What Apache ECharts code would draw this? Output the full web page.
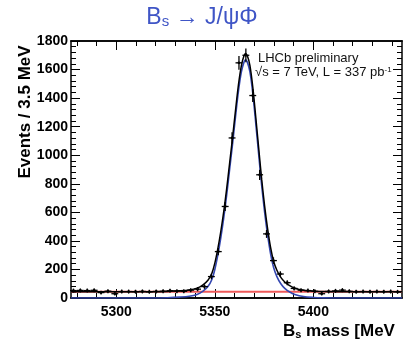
<!DOCTYPE html>
<html><head><meta charset="utf-8">
<script src="https://cdn.jsdelivr.net/npm/echarts@6/dist/echarts.min.js"></script>
<style>html,body{margin:0;padding:0;background:#fff}#c{width:404px;height:345px}</style>
</head><body><div id="c"></div>
<script>
// ---- data ----
const binCenters = [5278.25, 5281.75, 5285.25, 5288.75, 5292.25, 5295.75, 5299.25, 5302.75, 5306.25, 5309.75,
  5313.25, 5316.75, 5320.25, 5323.75, 5327.25, 5330.75, 5334.25, 5337.75, 5341.25, 5344.75,
  5348.25, 5351.75, 5355.25, 5358.75, 5362.25, 5365.75, 5369.25, 5372.75, 5376.25, 5379.75,
  5383.25, 5386.75, 5390.25, 5393.75, 5397.25, 5400.75, 5404.25, 5407.75, 5411.25, 5414.75,
  5418.25, 5421.75, 5425.25, 5428.75, 5432.25, 5435.75, 5439.25, 5442.75];
const events = [52, 53, 52, 54, 38, 48, 30, 45, 45, 44,
  46, 43, 46, 48, 51, 48, 47, 55, 62, 80,
  150, 325, 641, 1121, 1647, 1700, 1418, 863, 449, 262,
  168, 107, 67, 55, 52, 47, 30, 46, 50, 55,
  47, 44, 45, 44, 45, 44, 45, 43];
const eventErrors = [7, 7, 7, 7, 6, 7, 5, 7, 7, 7,
  7, 7, 7, 7, 7, 7, 7, 7, 8, 9,
  12, 18, 25, 33, 41, 41, 38, 29, 21, 16,
  13, 10, 8, 7, 7, 7, 5, 7, 7, 7,
  7, 7, 7, 7, 7, 7, 7, 7];
const curveMass = [5277, 5320, 5326, 5332, 5337, 5341, 5344, 5346.5, 5348.5, 5350,
  5351.5, 5353, 5354.5, 5356, 5357.5, 5359, 5360.5, 5362, 5363.5, 5364.8,
  5365.6, 5366.5, 5367.8, 5369.3, 5370.8, 5372.3, 5373.8, 5375.3, 5376.8, 5378.3,
  5379.8, 5381.5, 5383.5, 5385.5, 5388, 5391, 5395, 5400, 5405, 5410, 5445];
const signalFit = [0, 0, 2, 6, 12, 25, 48, 80, 130, 200,
  300, 420, 560, 720, 900, 1080, 1270, 1450, 1585, 1652,
  1668, 1652, 1585, 1430, 1220, 1000, 785, 598, 440, 310,
  215, 150, 100, 68, 42, 22, 10, 4, 1, 0, 0];
const totalFit = [44, 44, 46, 50, 56, 69, 92, 124, 174, 244,
  344, 464, 604, 764, 944, 1124, 1314, 1494, 1629, 1696,
  1712, 1696, 1629, 1474, 1264, 1044, 829, 642, 484, 354,
  259, 194, 144, 112, 86, 66, 54, 48, 45, 44, 44];
const bkgMass = [5277, 5445];
const bkgFit = [44, 44];
const xMajorLabels = [5300, 5350, 5400];
const xMinorTicks = [5280, 5290, 5300, 5310, 5320, 5330, 5340, 5350, 5360, 5370, 5380, 5390, 5400, 5410, 5420, 5430, 5440];

const FONT = 'Liberation Sans, Arial, Helvetica, sans-serif';
const pts = (xs, ys) => xs.map((x, i) => [x, ys[i]]);
const histData = binCenters.map((x, i) => [x, events[i], eventErrors[i]]);
const HALF_BIN = 1.75;
const plain = v => String(v);

const chart = echarts.init(document.getElementById('c'), null, {renderer: 'canvas'});

const xBase = {type: 'value', min: 5277, max: 5445, splitLine: {show: false},
  axisLine: {show: true, lineStyle: {color: '#000', width: 1.5}}};
const yBase = {type: 'value', min: 0, max: 1800, interval: 200, splitLine: {show: false},
  axisLine: {show: true, lineStyle: {color: '#000', width: 1.5}}};

chart.setOption({
  animation: false,
  backgroundColor: '#fff',
  grid: {left: 71, right: 2, top: 41, bottom: 47, containLabel: false},
  xAxis: [
    Object.assign({}, xBase, {position: 'bottom',
      axisTick: {show: true, inside: true, length: 9, customValues: xMajorLabels, lineStyle: {color: '#000', width: 1}},
      axisLabel: {show: true, customValues: xMajorLabels, formatter: plain, color: '#000', fontFamily: FONT, fontWeight: 'bold', fontSize: 14, margin: 7}}),
    Object.assign({}, xBase, {position: 'bottom',
      axisTick: {show: true, inside: true, length: 5, customValues: xMinorTicks, lineStyle: {color: '#000', width: 1}},
      axisLabel: {show: false}}),
    Object.assign({}, xBase, {position: 'top',
      axisTick: {show: true, inside: true, length: 9, customValues: xMajorLabels, lineStyle: {color: '#000', width: 1}},
      axisLabel: {show: false}}),
    Object.assign({}, xBase, {position: 'top',
      axisTick: {show: true, inside: true, length: 5, customValues: xMinorTicks, lineStyle: {color: '#000', width: 1}},
      axisLabel: {show: false}})
  ],
  yAxis: [
    Object.assign({}, yBase, {position: 'left',
      axisTick: {show: true, inside: true, length: 9, lineStyle: {color: '#000', width: 1}},
      minorTick: {show: true, splitNumber: 5, length: 5, lineStyle: {color: '#000', width: 1}},
      axisLabel: {show: true, formatter: plain, color: '#000', fontFamily: FONT, fontWeight: 'bold', fontSize: 14, margin: 3}}),
    Object.assign({}, yBase, {position: 'right',
      axisTick: {show: true, inside: true, length: 9, lineStyle: {color: '#000', width: 1}},
      minorTick: {show: true, splitNumber: 5, length: 5, lineStyle: {color: '#000', width: 1}},
      axisLabel: {show: false}})
  ],
  graphic: [
    {type: 'text', left: 'center', top: 6, style: {
      text: '{b|B}{s|s}{b| \u2192 J/\u03C8\u03A6}',
      rich: {
        b: {fontFamily: FONT, fontSize: 23, lineHeight: 30, verticalAlign: 'bottom', fill: '#3f55c6'},
        s: {fontFamily: FONT, fontSize: 15, lineHeight: 14, verticalAlign: 'bottom', fill: '#3f55c6'}
      }}},
    {type: 'text', x: 25, y: 112, rotation: Math.PI / 2, style: {
      text: 'Events / 3.5 MeV', fontFamily: FONT, fontWeight: 'bold', fontSize: 17, fill: '#000',
      align: 'center', verticalAlign: 'middle'}},
    {type: 'text', x: 283, y: 318, style: {
      text: '{b|B}{s|s}{b| mass [MeV}',
      rich: {
        b: {fontFamily: FONT, fontSize: 17, fontWeight: 'bold', lineHeight: 22, verticalAlign: 'bottom', fill: '#000'},
        s: {fontFamily: FONT, fontSize: 11, fontWeight: 'bold', lineHeight: 10, verticalAlign: 'bottom', fill: '#000'}
      }}},
    {type: 'text', x: 258, y: 52, style: {
      text: 'LHCb preliminary', fontFamily: FONT, fontSize: 13, fill: '#111'}},
    {type: 'text', x: 255, y: 66, style: {
      text: '{t|\u221As = 7 TeV, L = 337 pb}{u|-1}',
      rich: {
        t: {fontFamily: FONT, fontSize: 13, fill: '#111', lineHeight: 16, verticalAlign: 'top'},
        u: {fontFamily: FONT, fontSize: 8, fill: '#111', lineHeight: 8, verticalAlign: 'top'}
      }}}
  ],
  series: [
    {type: 'line', name: 'background', data: pts(bkgMass, bkgFit), showSymbol: false, symbol: 'none',
      lineStyle: {color: '#ee5a5a', width: 2}, z: 3},
    {type: 'line', name: 'signal', data: pts(curveMass, signalFit), showSymbol: false, symbol: 'none', smooth: 0.3,
      lineStyle: {color: '#3346b0', width: 1.6}, z: 4},
    {type: 'line', name: 'total', data: pts(curveMass, totalFit), showSymbol: false, symbol: 'none', smooth: 0.3,
      lineStyle: {color: '#000', width: 1.5}, z: 5},
    {type: 'custom', name: 'data', data: histData, z: 6,
      renderItem: function (params, api) {
        const x = api.value(0), y = api.value(1), e = api.value(2);
        const pL = api.coord([x - HALF_BIN, y]), pR = api.coord([x + HALF_BIN, y]);
        const pT = api.coord([x, y + e]), pB = api.coord([x, y - e]);
        const c = api.coord([x, y]);
        return {type: 'group', children: [
          {type: 'line', shape: {x1: pL[0], y1: pL[1], x2: pR[0], y2: pR[1]}, style: {stroke: '#000', lineWidth: 1.3}},
          {type: 'line', shape: {x1: pT[0], y1: pT[1] - 1, x2: pB[0], y2: pB[1] + 1}, style: {stroke: '#000', lineWidth: 1.3}},
          {type: 'circle', shape: {cx: c[0], cy: c[1], r: 1.4}, style: {fill: '#000'}}
        ]};
      }}
  ]
});
</script>
</body></html>
